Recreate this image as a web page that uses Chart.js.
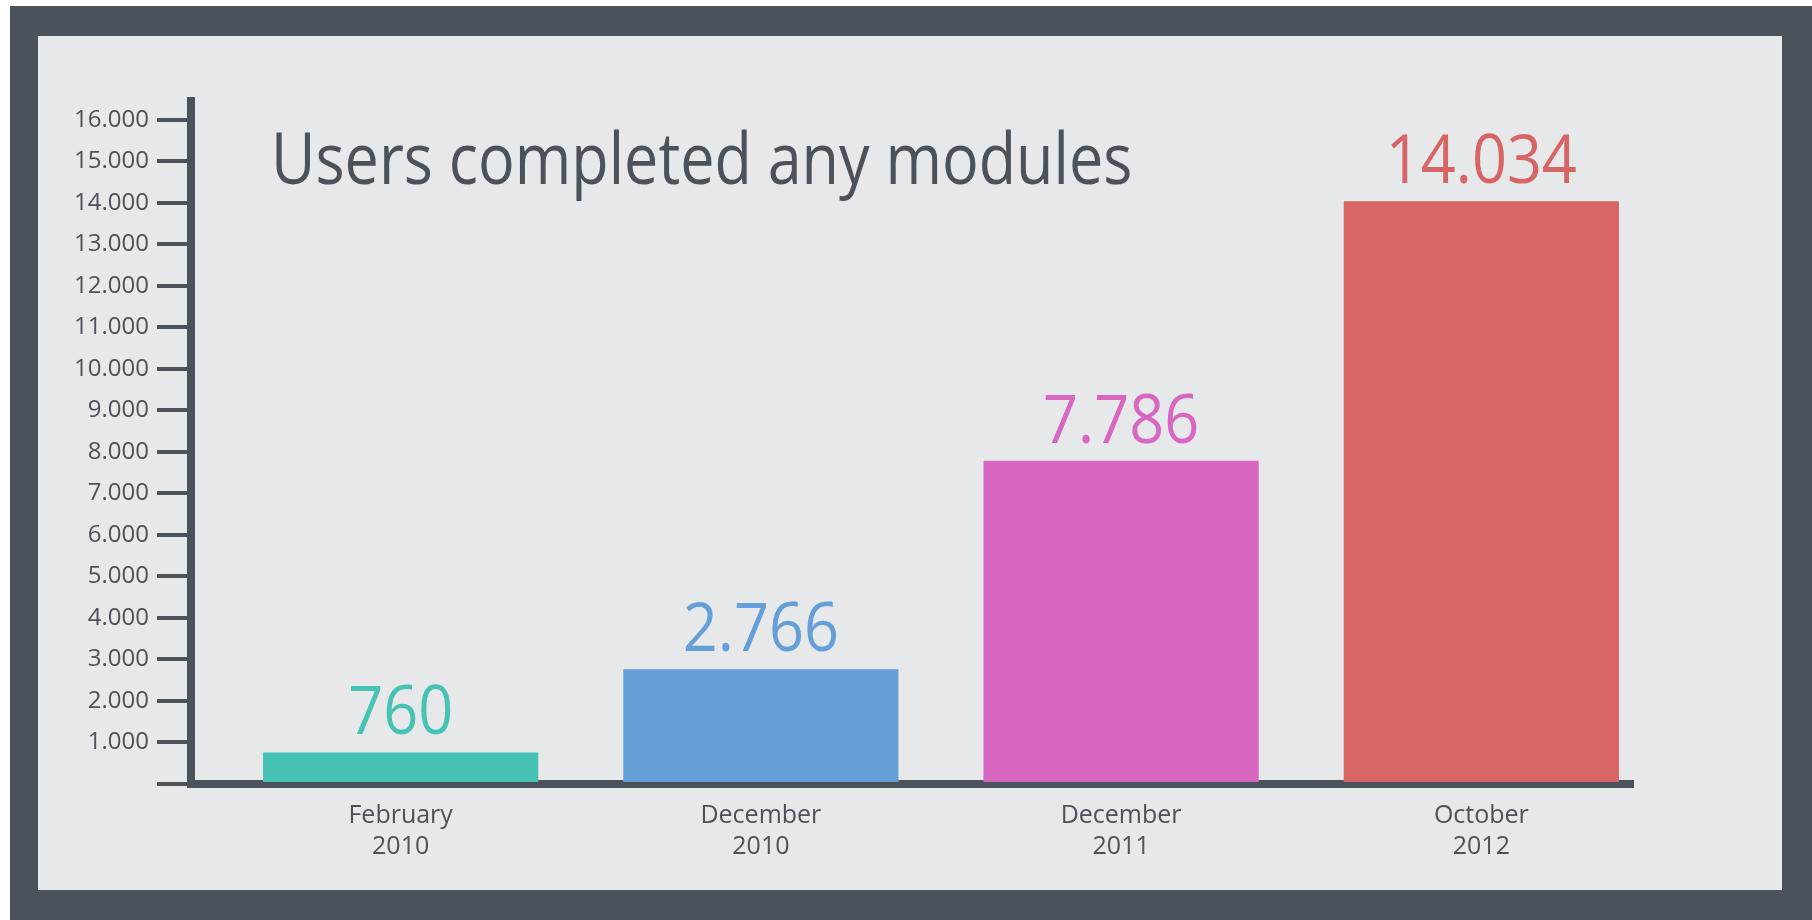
<!DOCTYPE html>
<html>
<head>
<meta charset="utf-8">
<title>Users completed any modules</title>
<script src="https://cdn.jsdelivr.net/npm/chart.js@4.4.1/dist/chart.umd.min.js"></script>
<style>
  html, body { margin: 0; padding: 0; background: #ffffff; }
  #frame {
    position: absolute; left: 10px; top: 6px; width: 1802px; height: 914px;
    background: #4b5259;
  }
  #panel {
    position: absolute; left: 28px; top: 30px; width: 1744px; height: 854px;
    background: #e7e8ea;
  }
  canvas { display: block; }
</style>
</head>
<body>
<div id="frame">
  <div id="panel">
    <canvas id="usersChart" width="1744" height="854"></canvas>
  </div>
</div>
<script>
const categories = [['February', '2010'], ['December', '2010'], ['December', '2011'], ['October', '2012']];
const users = [760, 2766, 7786, 14034];
const barColors = ['#47c3b5', '#659fd8', '#d767c0', '#d76565'];
const yTickValues = [0, 1000, 2000, 3000, 4000, 5000, 6000, 7000, 8000,
    9000, 10000, 11000, 12000, 13000, 14000, 15000, 16000];
const chartTitle = 'Users completed any modules';

const ink = '#4b5259';

function dotThousands(v) {
    return String(Math.round(v)).replace(/\B(?=(\d{3})+(?!\d))/g, '.');
}

// title + value labels, drawn a bit condensed to look like the original face
const overlayText = {
    id: 'overlayText',
    afterDatasetsDraw(chart) {
        const ctx = chart.ctx;
        const area = chart.chartArea;

        ctx.save();
        ctx.fillStyle = ink;
        ctx.font = '71px "Open Sans"';
        ctx.textAlign = 'left';
        ctx.textBaseline = 'alphabetic';
        ctx.translate(area.left + 80, area.top + 83);
        ctx.scale(0.86, 1);
        ctx.fillText(chartTitle, 0, 0);
        ctx.restore();

        const meta = chart.getDatasetMeta(0);
        meta.data.forEach((bar, i) => {
            ctx.save();
            ctx.fillStyle = barColors[i];
            ctx.font = '68px "Open Sans"';
            ctx.textAlign = 'center';
            ctx.textBaseline = 'alphabetic';
            ctx.translate(bar.x, bar.y - 18);
            ctx.scale(0.9, 1);
            ctx.fillText(dotThousands(users[i]), 0, 0);
            ctx.restore();
        });
    }
};

const ctx = document.getElementById('usersChart').getContext('2d');

new Chart(ctx, {
    type: 'bar',
    data: {
        datasets: [{
            data: users.map((v, i) => ({ x: i, y: v })),
            backgroundColor: barColors,
            borderWidth: 0,
            categoryPercentage: 1,
            barPercentage: 0.764
        }]
    },
    options: {
        responsive: false,
        animation: false,
        layout: { padding: { top: 65, right: 149, left: 0, bottom: 0 } },
        plugins: {
            legend: { display: false },
            tooltip: { enabled: false }
        },
        scales: {
            x: {
                type: 'linear',
                min: -0.582,
                max: 3.421,
                offset: false,
                z: 1,
                grid: { display: false },
                border: { display: true, color: ink, width: 8 },
                ticks: {
                    autoSkip: false,
                    maxRotation: 0,
                    padding: 8,
                    color: ink,
                    font: { family: 'Open Sans', size: 25, lineHeight: 1.24 },
                    callback: v => categories[v] || ''
                },
                afterBuildTicks: s => { s.ticks = categories.map((c, i) => ({ value: i })); },
                afterFit: s => { s.height = 106; }
            },
            y: {
                min: 0,
                max: 16450,
                z: 1,
                grid: {
                    drawOnChartArea: false,
                    drawTicks: true,
                    tickLength: 34,
                    tickWidth: 4,
                    tickColor: ink,
                    lineWidth: 4,
                    color: ink
                },
                border: { display: true, color: ink, width: 8 },
                ticks: {
                    autoSkip: false,
                    padding: 8,
                    color: ink,
                    font: { family: 'Open Sans', size: 24 },
                    callback: v => (v === 0 ? '' : dotThousands(v))
                },
                afterBuildTicks: s => { s.ticks = yTickValues.map(v => ({ value: v })); },
                afterFit: s => { s.width = 153; }
            }
        }
    },
    plugins: [overlayText]
});
</script>
</body>
</html>
